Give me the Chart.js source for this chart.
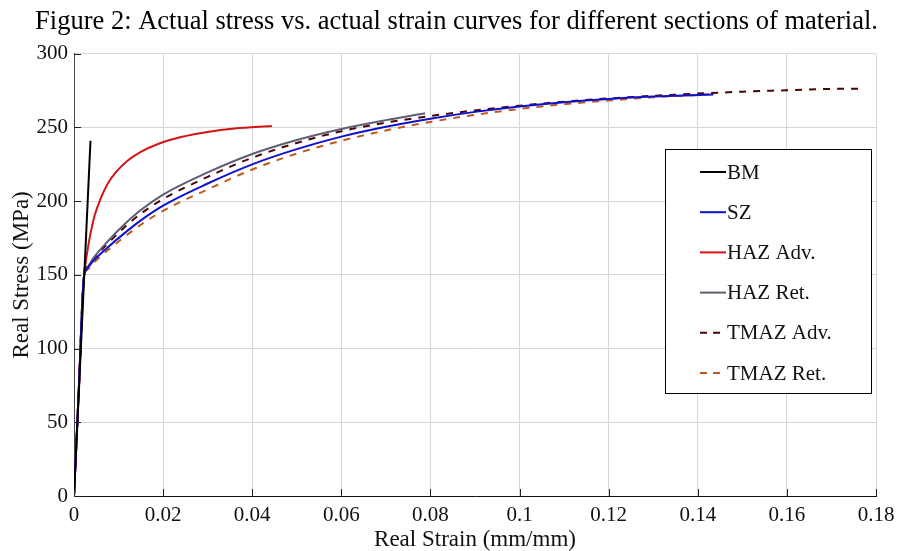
<!DOCTYPE html>
<html>
<head>
<meta charset="utf-8">
<script src="https://cdn.jsdelivr.net/npm/chart.js@4/dist/chart.umd.min.js"></script>
<style>
  html, body { margin: 0; padding: 0; background: #fff; }
  #wrap { width: 897px; height: 551px; }
</style>
</head>
<body>
<div id="wrap"><canvas id="stressStrain" width="897" height="551"></canvas></div>
<script>
// tick labels
const xTickLabels = ['0', '0.02', '0.04', '0.06', '0.08', '0.1', '0.12', '0.14', '0.16', '0.18'];
const yTickLabels = ['0', '50', '100', '150', '200', '250', '300'];

const seriesNames = ['BM', 'SZ', 'HAZ Adv.', 'HAZ Ret.', 'TMAZ Adv.', 'TMAZ Ret.'];

// values (strain mm/mm, stress MPa)
const bmStrain = [0, 0.0037];
const bmStress = [0, 241];

const szStrain = [0, 0.0011, 0.0022, 0.003, 0.0045, 0.0075, 0.0112, 0.015, 0.02, 0.03, 0.04, 0.05, 0.06, 0.07, 0.08, 0.09, 0.1, 0.11, 0.12, 0.13, 0.1435];
const szStress = [0, 74, 148, 154.5, 160, 168.5, 178, 187, 197, 212, 225, 235.3, 243.8, 250.5, 256, 260.6, 264.3, 267.2, 269.4, 271, 272.4];

const hazAdvStrain = [0, 0.0011, 0.0022, 0.0026, 0.0031, 0.0037, 0.0046, 0.0058, 0.0075, 0.0095, 0.012, 0.015, 0.019, 0.024, 0.03, 0.036, 0.0444];
const hazAdvStress = [0, 74, 148, 158, 168, 178, 190, 200.5, 211.5, 220, 227.5, 233.5, 239, 243.5, 247, 249.3, 251];

const hazRetStrain = [0, 0.0011, 0.0022, 0.003, 0.0045, 0.0075, 0.0112, 0.015, 0.02, 0.03, 0.04, 0.05, 0.06, 0.07, 0.0788];
const hazRetStress = [0, 74, 148, 155, 162, 172.5, 184, 194, 204.5, 219.5, 232, 241.5, 249, 255, 259.7];

const tmazAdvStrain = [0, 0.0011, 0.0022, 0.003, 0.0045, 0.0075, 0.0112, 0.015, 0.02, 0.03, 0.04, 0.05, 0.06, 0.07, 0.08, 0.09, 0.1, 0.11, 0.12, 0.13, 0.14, 0.15, 0.16, 0.17, 0.177];
const tmazAdvStress = [0, 74, 148, 155.5, 161.5, 171, 182, 191.5, 201.5, 216.5, 229.5, 239.5, 247.5, 253.3, 257.8, 261.6, 264.8, 267.5, 269.7, 271.5, 273, 274.3, 275.3, 276.2, 276.3];

const tmazRetStrain = [0, 0.0011, 0.0022, 0.003, 0.0045, 0.0075, 0.0112, 0.015, 0.02, 0.03, 0.04, 0.05, 0.06, 0.07, 0.08, 0.09, 0.1, 0.11, 0.12, 0.13, 0.1425];
const tmazRetStress = [0, 74, 148, 153.5, 158.5, 166.5, 175.5, 184, 193.5, 208, 221.5, 232.3, 241, 248, 253.8, 258.6, 262.6, 265.8, 268.3, 270.5, 272.5];

const serif = "'Liberation Serif', 'DejaVu Serif', serif";

function toPoints(xs, ys) {
    return xs.map((x, i) => ({ x: x, y: ys[i] }));
}

function makeSeries(name, xs, ys, color, dash, tension) {
    return {
        label: name,
        data: toPoints(xs, ys),
        showLine: true,
        borderColor: color,
        backgroundColor: color,
        borderWidth: 2,
        borderDash: dash,
        pointRadius: 0,
        tension: tension,
        cubicInterpolationMode: tension ? 'monotone' : 'default',
        fill: false
    };
}

// inward tick marks + boxed legend inside the plot
const figureExtras = {
    id: 'figureExtras',
    afterDraw(chart) {
        const { ctx, chartArea, scales } = chart;
        ctx.save();
        ctx.strokeStyle = '#222';
        ctx.lineWidth = 1;
        ctx.setLineDash([]);
        scales.x.ticks.forEach(t => {
            const px = Math.round(scales.x.getPixelForValue(t.value)) + 0.5;
            ctx.beginPath();
            ctx.moveTo(px, chartArea.bottom);
            ctx.lineTo(px, chartArea.bottom - 7);
            ctx.stroke();
        });
        scales.y.ticks.forEach(t => {
            const py = Math.round(scales.y.getPixelForValue(t.value)) + 0.5;
            ctx.beginPath();
            ctx.moveTo(chartArea.left, py);
            ctx.lineTo(chartArea.left + 7, py);
            ctx.stroke();
        });

        // legend box
        const boxX = 665.5, boxY = 149.5, boxW = 206, boxH = 244;
        ctx.fillStyle = '#fff';
        ctx.fillRect(boxX, boxY, boxW, boxH);
        ctx.strokeStyle = '#000';
        ctx.strokeRect(boxX, boxY, boxW, boxH);

        ctx.font = '21px ' + serif;
        ctx.textBaseline = 'middle';
        ctx.textAlign = 'left';
        chart.data.datasets.forEach((ds, i) => {
            const y = 172 + i * 40.2;
            ctx.strokeStyle = ds.borderColor;
            ctx.lineWidth = 2;
            ctx.setLineDash(ds.borderDash.length ? [7, 6] : []);
            ctx.beginPath();
            ctx.moveTo(700, y);
            ctx.lineTo(726, y);
            ctx.stroke();
            ctx.setLineDash([]);
            ctx.fillStyle = '#111';
            ctx.fillText(ds.label, 727, y + 1);
        });
        ctx.restore();
    }
};

new Chart(document.getElementById('stressStrain'), {
    type: 'scatter',
    data: {
        datasets: [
            makeSeries(seriesNames[0], bmStrain, bmStress, '#000000', [], 0),
            makeSeries(seriesNames[1], szStrain, szStress, '#1010d0', [], 0.4),
            makeSeries(seriesNames[2], hazAdvStrain, hazAdvStress, '#d21414', [], 0.4),
            makeSeries(seriesNames[3], hazRetStrain, hazRetStress, '#5e5e74', [], 0.4),
            makeSeries(seriesNames[4], tmazAdvStrain, tmazAdvStress, '#4a0505', [7, 7], 0.4),
            makeSeries(seriesNames[5], tmazRetStrain, tmazRetStress, '#bd5a1e', [7, 7], 0.4)
        ]
    },
    options: {
        responsive: false,
        animation: false,
        layout: { padding: { left: 16, right: 0, top: 0, bottom: 0 } },
        plugins: {
            legend: { display: false },
            tooltip: { enabled: false },
            title: {
                display: true,
                text: 'Figure 2: Actual stress vs. actual strain curves for different sections of material.',
                color: '#000',
                font: { family: serif, size: 26.5, weight: 'normal' },
                padding: { top: 6, bottom: 16 }
            }
        },
        scales: {
            x: {
                type: 'linear',
                min: 0,
                max: 0.18,
                afterFit: scale => {
                    scale.height = 55;
                    scale.paddingLeft = 0;
                    scale.paddingRight = 21;
                },
                ticks: {
                    stepSize: 0.02,
                    padding: 7,
                    color: '#111',
                    font: { family: serif, size: 21 },
                    maxRotation: 0,
                    autoSkip: false,
                    callback: (value, index) => xTickLabels[index]
                },
                grid: { color: '#d6d6d6', drawTicks: false },
                border: { color: '#111', width: 1 },
                title: {
                    display: true,
                    text: 'Real Strain (mm/mm)',
                    color: '#111',
                    font: { family: serif, size: 23, lineHeight: 1 },
                    padding: 0
                }
            },
            y: {
                type: 'linear',
                min: 0,
                max: 300,
                afterFit: scale => { scale.width = 58; },
                ticks: {
                    stepSize: 50,
                    padding: 6,
                    color: '#111',
                    font: { family: serif, size: 21 },
                    callback: (value, index) => yTickLabels[index]
                },
                grid: { color: '#d6d6d6', drawTicks: false },
                border: { color: '#444', width: 1 },
                title: {
                    display: true,
                    text: 'Real Stress (MPa)',
                    color: '#111',
                    font: { family: serif, size: 23, lineHeight: 0.5 },
                    padding: 0
                }
            }
        }
    },
    plugins: [figureExtras]
});
</script>
</body>
</html>
